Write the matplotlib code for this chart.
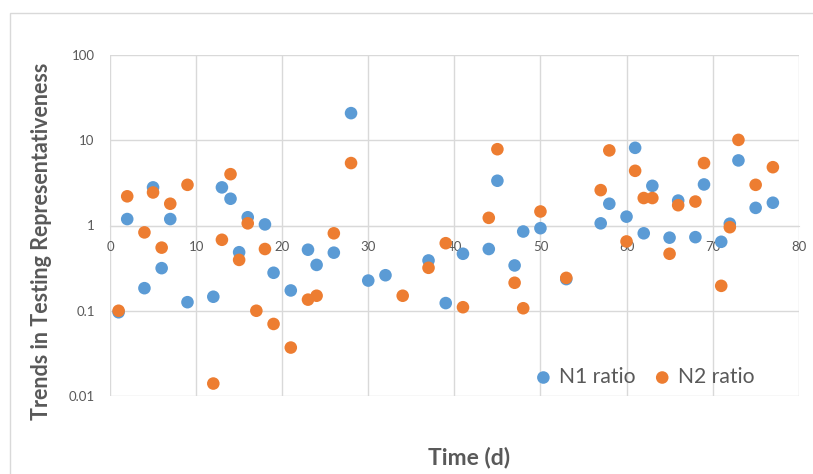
import numpy as np
import matplotlib
matplotlib.use("Agg")
import matplotlib.pyplot as plt
from matplotlib.ticker import FixedLocator, FixedFormatter
from matplotlib.patches import Rectangle

# Dados
dias_n1 = [1, 2, 4, 5, 6, 7, 9, 12, 13, 14, 15, 16, 18, 19, 21, 23, 24, 26, 28,
           30, 32, 37, 39, 41, 44, 45, 47, 48, 50, 53, 57, 58, 60, 61, 62, 63,
           65, 66, 68, 69, 71, 72, 73, 75, 77]
n1_ratio = [0.096, 1.19, 0.184, 2.8, 0.316, 1.19, 0.126, 0.146, 2.8, 2.06, 0.486,
            1.25, 1.03, 0.279, 0.173, 0.52, 0.345, 0.48, 20.8,
            0.226, 0.261, 0.389, 0.123, 0.466, 0.53, 3.35, 0.34, 0.85, 0.93,
            0.235, 1.06, 1.8, 1.27, 8.15, 0.81, 2.92,
            0.72, 1.96, 0.73, 3.03, 0.644, 1.05, 5.8, 1.61, 1.85]

dias_n2 = [1, 2, 4, 5, 6, 7, 9, 12, 13, 14, 15, 16, 17, 18, 19, 21, 23, 24, 26,
           28, 34, 37, 39, 41, 44, 45, 47, 48, 50, 53, 57, 58, 60, 61, 62, 63,
           65, 66, 68, 69, 71, 72, 73, 75, 77]
n2_ratio = [0.10, 2.2, 0.83, 2.44, 0.55, 1.8, 3.0, 0.014, 0.68, 4.0, 0.395,
            1.06, 0.10, 0.53, 0.070, 0.037, 0.135, 0.15, 0.81,
            5.4, 0.15, 0.319, 0.62, 0.11, 1.23, 7.85, 0.213, 0.107, 1.46,
            0.243, 2.6, 7.6, 0.65, 4.38, 2.1, 2.1,
            0.466, 1.73, 1.91, 5.4, 0.196, 0.955, 10.1, 3.0, 4.83]

xticks = [0, 10, 20, 30, 40, 50, 60, 70, 80]
yticks = [0.01, 0.1, 1, 10, 100]
ytick_labels = ["0.01", "0.1", "1", "10", "100"]

azul = "#5B9BD5"
laranja = "#ED7D31"
cinza_grade = "#D9D9D9"
cinza_texto = "#595959"

plt.rcParams['font.family'] = ['Lato', 'DejaVu Sans']

W, H = 813, 474
fig = plt.figure(figsize=(W / 100, H / 100), dpi=100)

# moldura do gráfico (estilo Excel)
fig.patches.append(Rectangle((10 / W, -0.1), 1.2, (474 - 13) / H + 0.1,
                             transform=fig.transFigure, fill=False,
                             edgecolor=cinza_grade, linewidth=1))

ax = fig.add_axes([110 / W, (H - 396) / H, (798.7 - 110) / W, (396 - 55) / H])

ax.scatter(dias_n1, n1_ratio, s=82, color=azul, edgecolors='none',
           label="N1 ratio", zorder=3)
ax.scatter(dias_n2, n2_ratio, s=82, color=laranja, edgecolors='none',
           label="N2 ratio", zorder=4)

ax.set_yscale('log')
ax.set_xlim(0, 80)
ax.set_ylim(0.01, 100)
ax.xaxis.set_major_locator(FixedLocator(xticks))
ax.yaxis.set_major_locator(FixedLocator(yticks))
ax.yaxis.set_major_formatter(FixedFormatter(ytick_labels))
ax.yaxis.set_minor_locator(FixedLocator([]))

ax.grid(True, color=cinza_grade, linewidth=1, zorder=0)
ax.set_axisbelow(True)

for lado in ['top', 'right', 'left']:
    ax.spines[lado].set_visible(False)
# eixo horizontal cruza em 1
ax.spines['bottom'].set_position(('data', 1))
ax.spines['bottom'].set_color(cinza_grade)

ax.tick_params(axis='both', length=0, labelsize=9.5, labelcolor=cinza_texto)
ax.tick_params(axis='x', pad=11)
ax.tick_params(axis='y', pad=11)

fig.text(469 / W, 1 - 458 / H, "Time (d)", fontsize=16.5, fontweight='bold',
         color=cinza_texto, ha='center', va='center')
fig.text(42 / W, 1 - 241 / H, "Trends in Testing Representativeness",
         fontsize=15.5, fontweight='bold', color=cinza_texto, rotation=90,
         ha='center', va='center')

ax.legend(loc='lower right', bbox_to_anchor=(0.956, -0.014), ncol=2,
          frameon=False, fontsize=15.2, handlelength=1.0, handletextpad=0.25,
          columnspacing=0.75, borderaxespad=0.25, labelcolor=cinza_texto)

fig.savefig("out.png", dpi=100)
